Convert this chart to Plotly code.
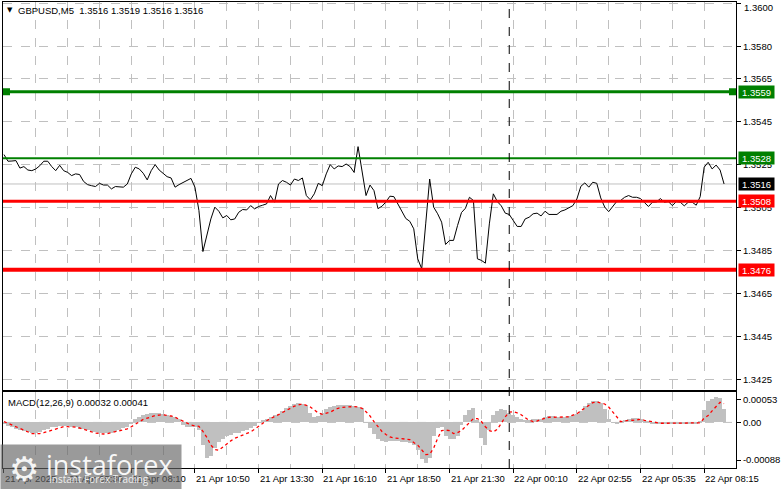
import plotly.graph_objects as go

# ---------------- data ----------------
bars_per_sample = 2  # one value every 2 M5 bars

price = [
    1.35297, 1.35266, 1.35267, 1.35269, 1.35234, 1.35241, 1.35225, 1.35222, 1.35230, 1.35245,
    1.35266, 1.35266, 1.35241, 1.35222, 1.35247, 1.35222, 1.35214, 1.35199, 1.35207, 1.35204,
    1.35172, 1.35157, 1.35152, 1.35148, 1.35163, 1.35155, 1.35155, 1.35137, 1.35148, 1.35145,
    1.35145, 1.35160, 1.35207, 1.35238, 1.35230, 1.35210, 1.35179, 1.35222, 1.35250, 1.35225,
    1.35210, 1.35194, 1.35188, 1.35145, 1.35157, 1.35168,
    1.35176, 1.35186, 1.35145, 1.35036, 1.34845, 1.34928, 1.34997, 1.35052, 1.35033, 1.35002,
    1.35013, 1.34993, 1.34997, 1.35028, 1.35041, 1.35039, 1.35059, 1.35044, 1.35055, 1.35061,
    1.35067, 1.35106, 1.35075, 1.35160, 1.35176, 1.35168, 1.35155, 1.35183, 1.35176, 1.35188,
    1.35106, 1.35086, 1.35114, 1.35163, 1.35152, 1.35207, 1.35250, 1.35230, 1.35244, 1.35241,
    1.35253, 1.35241, 1.35214, 1.35334, 1.35210,
    1.35106, 1.35155, 1.35129, 1.35045, 1.35056, 1.35076, 1.35103, 1.35101, 1.35067, 1.35030,
    1.34999, 1.34986, 1.34951, 1.34811, 1.34765, 1.34974, 1.35183, 1.35052, 1.35021, 1.34982,
    1.34878, 1.34897, 1.34897, 1.34966, 1.35027, 1.35047, 1.35098, 1.35083, 1.34811, 1.34804,
    1.34791, 1.34974, 1.35114, 1.35078, 1.35058, 1.35024, 1.35018, 1.34990, 1.34962, 1.34962,
    1.34997, 1.35005, 1.35021, 1.35024,
    1.35011, 1.35033, 1.35018, 1.35018, 1.35018, 1.35033, 1.35039, 1.35049, 1.35059, 1.35090,
    1.35149, 1.35165, 1.35145, 1.35168, 1.35163, 1.35095, 1.35052, 1.35031, 1.35052, 1.35078,
    1.35083, 1.35098, 1.35106, 1.35098, 1.35098, 1.35092, 1.35073, 1.35055, 1.35075, 1.35076,
    1.35092, 1.35075, 1.35078, 1.35059, 1.35078, 1.35075, 1.35058, 1.35075, 1.35075, 1.35061,
    1.35101, 1.35238, 1.35261, 1.35230, 1.35248, 1.35225, 1.35160,
]

# MACD histogram and signal, in units of 1e-5
macd_hist_e5 = [
    -4, -9, -12, -15, -18, -21, -23, -26, -26, -22,
    -18, -15, -12, -10, -9, -9, -9, -10, -12, -15,
    -16, -19, -22, -23, -26, -26, -25, -24, -22, -18,
    -14, -10, -4, 7, 13, 16, 19, 21, 22, 21,
    19, 18, 15, 12, 7, -7, -10, -10, -12, -18,
    -53, -84, -78, -60, -47, -40, -33, -29, -26, -24,
    -21, -18, -13, -9, -1, 5, 8, 12, 16, 19,
    27, 33, 39, 42, 44, 43, 40, 21, 13, 15,
    22, 30, 35, 38, 40, 40, 40, 40, 38, 36,
    33, -1, -14, -27, -38, -43, -45, -44, -43, -43,
    -46, -47, -49, -53, -64, -86, -95, -84, -33, -14,
    -10, -32, -40, -40, -32, -6, 17, 29, 33, 5,
    -37, -53, -18, 17, 27, 30, 29, 21, 17, 12,
    7, 5, 5, 7, 7, 8, 13, 15, 15, 13,
    13, 13, 15, 16, 19, 27, 38, 46, 49, 49,
    46, 30, 7, -1, -2, 1, 5, 8, 9, 9,
    7, 4, 1, -2, -4, -4, -4, -4, -4, -4,
    -4, -4, -4, -3, -2, 1, 29, 50, 55, 58,
    56, 32,
]
macd_signal_e5 = [
    2, -2, -5, -9, -14, -18, -22, -26, -26, -26,
    -24, -21, -18, -15, -12, -10, -10, -10, -11, -13,
    -16, -19, -22, -25, -26, -27, -26, -24, -22, -20,
    -18, -15, -10, -4, 2, 7, 10, 13, 16, 17,
    18, 16, 15, 12, 7, 2, -2, -6, -8, -9,
    -21, -35, -53, -63, -65, -57, -49, -43, -37, -33,
    -29, -26, -22, -16, -9, -2, 4, 9, 13, 18,
    23, 29, 33, 38, 41, 43, 40, 36, 29, 22,
    19, 21, 24, 29, 33, 35, 36, 37, 37, 36,
    33, 25, 15, 2, -10, -21, -28, -34, -36, -37,
    -38, -39, -40, -47, -53, -64, -75, -74, -60, -37,
    -19, -18, -19, -26, -24, -19, -10, -1, 9, 9,
    2, -10, -19, -22, -16, -2, 13, 24, 25, 22,
    18, 11, 5, 2, 3, 7, 9, 12, 12, 12,
    12, 12, 13, 17, 20, 27, 34, 41, 46, 48,
    46, 43, 36, 25, 13, 2, 3, 5, 5, 6,
    7, 5, 3, 2, 0, -2, -2, -2, -2, -2,
    -2, -2, -2, -2, -2, -1, 10, 16, 27, 36,
    47, 44,
]

levels = [1.3559, 1.3528, 1.3508, 1.3476]
level_colors = ["#008000", "#008000", "#ff0000", "#ff0000"]
level_widths = [3, 2, 3, 4]
current_price = 1.3516

price_ticks = [1.3600, 1.3580, 1.3565, 1.3545, 1.3525, 1.3505, 1.3485, 1.3465, 1.3445, 1.3425]
macd_ticks = [0.00053, 0.0, -0.00088]
macd_tick_text = ["0.00053", "0.00", "-0.00088"]

time_labels = ["21 Apr 2025", "21 Apr 05:30", "21 Apr 08:10", "21 Apr 10:50",
               "21 Apr 13:30", "21 Apr 16:10", "21 Apr 18:50", "21 Apr 21:30",
               "22 Apr 00:10", "22 Apr 02:55", "22 Apr 05:35", "22 Apr 08:15"]
time_label_bars = [0, 32, 64, 96, 128, 160, 192, 224, 256, 288, 320, 352]
grid_step_bars = 16
separator_bar = 254

title_text = "GBPUSD,M5\u00a0\u00a01.3516 1.3519 1.3516 1.3516"
macd_title = "MACD(12,26,9) 0.00032 0.00041"

# ---------------- figure ----------------
FONT = "Liberation Sans"
FS = 9.5
X_RANGE = [-0.5, 368]

xp = [i * bars_per_sample for i in range(len(price))]
xh = [i * bars_per_sample for i in range(len(macd_hist_e5))]
xs = [i * bars_per_sample for i in range(len(macd_signal_e5))]
hist = [v * 1e-5 for v in macd_hist_e5]
sig = [v * 1e-5 for v in macd_signal_e5]

fig = go.Figure()
fig.add_trace(go.Bar(x=xh, y=hist, width=bars_per_sample,
                     marker=dict(color="#c0c0c0", line=dict(width=0)),
                     xaxis="x2", yaxis="y2", hoverinfo="skip"))
fig.add_trace(go.Scatter(x=xs, y=sig, mode="lines",
                         line=dict(color="#ff0000", width=1.3, dash="dot"),
                         xaxis="x2", yaxis="y2", hoverinfo="skip"))
fig.add_trace(go.Scatter(x=xp, y=price, mode="lines",
                         line=dict(color="black", width=1),
                         xaxis="x", yaxis="y", hoverinfo="skip"))

grid_vals = list(range(0, 369, grid_step_bars))
common_x = dict(range=X_RANGE, showline=True, linecolor="black", linewidth=1,
                mirror=True, zeroline=False, fixedrange=True)

# top price label is drawn separately (it sits on the very edge of the chart)
price_tick_text = [""] + [f"{v:.4f}" for v in price_ticks[1:]]

fig.update_layout(
    width=781, height=489,
    margin=dict(l=3, r=41, t=1, b=21),
    paper_bgcolor="white", plot_bgcolor="white",
    showlegend=False, bargap=0,
    font=dict(family=FONT, size=FS, color="black"),
    xaxis=dict(domain=[0, 1], anchor="y", tickvals=grid_vals, showticklabels=False,
               ticks="", showgrid=True, gridcolor="#c0c0c0", griddash="dash", gridwidth=1,
               **common_x),
    xaxis2=dict(domain=[0, 1], anchor="y2", matches="x", tickvals=time_label_bars,
                ticktext=["" for _ in time_labels], ticks="outside", ticklen=4,
                tickcolor="black", showgrid=True, gridcolor="#c0c0c0", griddash="dash",
                minor=dict(tick0=0, dtick=grid_step_bars, showgrid=True, gridcolor="#c0c0c0",
                           griddash="dash", ticks=""),
                **common_x),
    yaxis=dict(domain=[0.1670, 1], anchor="x", side="right", range=[1.34199, 1.36008],
               tickvals=price_ticks, ticktext=price_tick_text,
               ticks="outside", ticklen=4, tickcolor="black",
               showgrid=True, gridcolor="#c0c0c0", griddash="dash",
               showline=True, linecolor="black", mirror=True, zeroline=False, fixedrange=True),
    yaxis2=dict(domain=[0, 0.1627], anchor="x2", side="right", range=[-0.001063, 0.000705],
                tickvals=macd_ticks, ticktext=macd_tick_text,
                ticks="outside", ticklen=4, tickcolor="black", showgrid=False,
                showline=True, linecolor="black", mirror=True, zeroline=False, fixedrange=True),
)

shapes = []
# MACD zero line
shapes.append(dict(type="line", xref="x2 domain", x0=0, x1=1, yref="y2", y0=0, y1=0,
                   line=dict(color="#c0c0c0", width=1, dash="dash"), layer="below"))
# current price line
shapes.append(dict(type="line", xref="x domain", x0=0, x1=1, yref="y", y0=current_price,
                   y1=current_price, line=dict(color="#c0c0c0", width=1), layer="below"))
# level lines
for lv, c, w in zip(levels, level_colors, level_widths):
    shapes.append(dict(type="line", xref="x domain", x0=0, x1=1, yref="y", y0=lv, y1=lv,
                       line=dict(color=c, width=w)))
# square handles on the first level line
for anchor, a, b in [(0, 0, 7), (1, -7, 0)]:
    shapes.append(dict(type="rect", xref="x domain", xsizemode="pixel", xanchor=anchor,
                       x0=a, x1=b, yref="y", ysizemode="pixel", yanchor=levels[0],
                       y0=-3.5, y1=3.5, fillcolor=level_colors[0], line=dict(width=0)))
# vertical separator
shapes.append(dict(type="line", xref="x", x0=separator_bar, x1=separator_bar,
                   yref="paper", y0=0, y1=1,
                   line=dict(color="black", width=1, dash="dash")))
fig.update_layout(shapes=shapes)

ann = []
# top price-axis label
ann.append(dict(text=f"{price_ticks[0]:.4f}", xref="paper", x=1, xanchor="left", xshift=6,
                yref="y", y=price_ticks[0], yanchor="top", yshift=4, showarrow=False,
                font=dict(family=FONT, size=FS, color="black")))
# title
ann.append(dict(text="\u25bc", xref="paper", x=0, xanchor="left", xshift=2,
                yref="paper", y=1, yanchor="top", yshift=-2, showarrow=False,
                font=dict(family="DejaVu Sans", size=7, color="black")))
ann.append(dict(text=title_text, xref="paper", x=0, xanchor="left", xshift=13,
                yref="paper", y=1, yanchor="top", yshift=-1, showarrow=False,
                font=dict(family=FONT, size=FS, color="black")))
ann.append(dict(text=macd_title, xref="paper", x=0, xanchor="left", xshift=3,
                yref="y2 domain", y=1, yanchor="top", yshift=-3, showarrow=False,
                font=dict(family=FONT, size=FS, color="black")))
# level price boxes
for lv, c in zip(levels + [current_price], level_colors + ["#000000"]):
    ann.append(dict(text=f"{lv:.4f}", xref="paper", x=1, xanchor="left", xshift=2,
                    yref="y", y=lv, yanchor="middle", showarrow=False,
                    bgcolor=c, width=33, height=10, borderpad=1,
                    font=dict(family=FONT, size=FS, color="white")))
# time labels
for b, t in zip(time_label_bars, time_labels):
    ann.append(dict(text=t, xref="x2", x=b, xanchor="left", xshift=-1,
                    yref="paper", y=0, yanchor="top", yshift=-3, showarrow=False,
                    font=dict(family=FONT, size=FS, color="black")))
# watermark logo
ann.append(dict(text=" ", xref="paper", x=0, xanchor="left", xshift=-3,
                yref="paper", y=0, yanchor="top", yshift=24, showarrow=False,
                width=180, height=45, borderpad=0, bgcolor="rgba(100,100,100,0.65)"))
ann.append(dict(text="\u2699", xref="paper", x=0, xanchor="center", xshift=21,
                yref="paper", y=0, yanchor="middle", yshift=-1, showarrow=False,
                font=dict(family="DejaVu Sans", size=34, color="rgba(255,255,255,0.92)")))
ann.append(dict(text="instaforex", xref="paper", x=0, xanchor="left", xshift=41,
                yref="paper", y=0, yanchor="middle", yshift=4, showarrow=False,
                font=dict(family="Open Sans", size=27, color="rgba(255,255,255,0.95)")))
ann.append(dict(text="Instant Forex Trading", xref="paper", x=0, xanchor="left", xshift=44,
                yref="paper", y=0, yanchor="middle", yshift=-11, showarrow=False,
                font=dict(family="Open Sans", size=10, color="rgba(255,255,255,0.85)")))
fig.update_layout(annotations=ann)

fig.write_html("out.html", config={"displayModeBar": False},
               post_script="document.body.style.margin='0';document.body.style.overflow='hidden';")
